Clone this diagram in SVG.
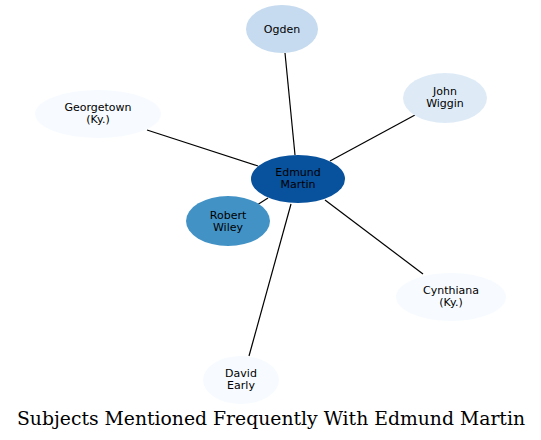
<svg xmlns="http://www.w3.org/2000/svg" width="541" height="440" viewBox="0 0 541 440">
<style>
.n text{font-family:"DejaVu Sans",sans-serif;font-size:11px;text-anchor:middle;fill:#000}
.e line{stroke:#000;stroke-width:1.2}
.t{font-family:"DejaVu Serif",serif;font-size:18.8px;text-anchor:middle;fill:#000}
</style>
<rect width="541" height="440" fill="#fff"/>
<g id="edges" class="e">
<line x1="295" y1="155" x2="285" y2="53"/>
<line x1="330" y1="161" x2="415" y2="115"/>
<line x1="258" y1="166" x2="147" y2="130"/>
<line x1="268" y1="198" x2="257" y2="205"/>
<line x1="325" y1="200" x2="423" y2="274"/>
<line x1="291" y1="204" x2="249" y2="356"/>
</g>
<g id="ogden" class="n"><ellipse cx="282" cy="29" rx="36" ry="24" fill="#c6dbef"/><text x="282" y="33">Ogden</text></g>
<g id="john-wiggin" class="n"><ellipse cx="445" cy="98" rx="42" ry="25" fill="#deebf7"/><text x="445" y="95">John</text><text x="445" y="107">Wiggin</text></g>
<g id="georgetown" class="n"><ellipse cx="98" cy="114" rx="63" ry="24" fill="#f7fbff"/><text x="98" y="111">Georgetown</text><text x="98" y="123">(Ky.)</text></g>
<g id="edmund-martin" class="n"><ellipse cx="298" cy="179" rx="47" ry="24" fill="#08519c"/><text x="298" y="176">Edmund</text><text x="298" y="188">Martin</text></g>
<g id="robert-wiley" class="n"><ellipse cx="228" cy="221" rx="42" ry="25" fill="#4292c6"/><text x="228" y="219">Robert</text><text x="228" y="231">Wiley</text></g>
<g id="cynthiana" class="n"><ellipse cx="451" cy="297" rx="55" ry="24" fill="#f7fbff"/><text x="451" y="294">Cynthiana</text><text x="451" y="306">(Ky.)</text></g>
<g id="david-early" class="n"><ellipse cx="241" cy="380" rx="38" ry="24" fill="#f7fbff"/><text x="241" y="377">David</text><text x="241" y="389">Early</text></g>
<text class="t" x="271" y="425">Subjects Mentioned Frequently With Edmund Martin</text>
</svg>
